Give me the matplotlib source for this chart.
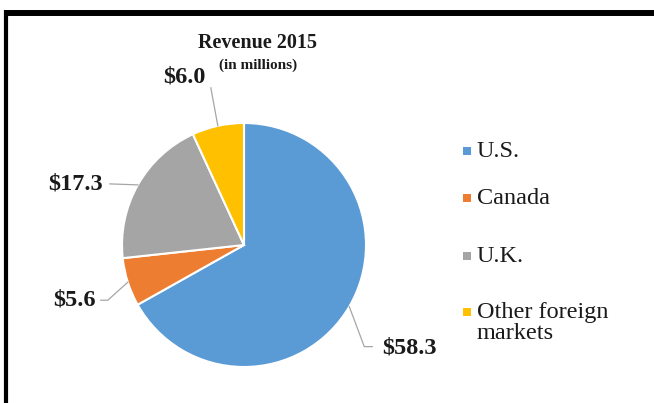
import matplotlib
matplotlib.use("Agg")
import matplotlib.pyplot as plt
import numpy as np
from matplotlib.patches import Rectangle
from matplotlib.lines import Line2D

categories = ["U.S.", "Canada", "U.K.", "Other foreign\nmarkets"]
values = [58.3, 5.6, 17.3, 6.0]
value_labels = ["$58.3", "$5.6", "$17.3", "$6.0"]
colors = ["#5B9BD5", "#ED7D31", "#A5A5A5", "#FFC000"]

W, H = 654, 403
fig = plt.figure(figsize=(W / 100, H / 100), dpi=100)
fig.patch.set_facecolor("white")

# pie placement (pixels)
cx, cy, R = 244, 245, 122
ax = fig.add_axes([(cx - R) / W, (H - cy - R) / H, 2 * R / W, 2 * R / H])
wedges, _ = ax.pie(values, colors=colors, startangle=90, counterclock=False,
                   radius=1, wedgeprops=dict(edgecolor="white", linewidth=1.5))
ax.set_xlim(-1, 1)
ax.set_ylim(-1, 1)
ax.set_aspect("equal")
ax.axis("off")

serif = ["Liberation Serif", "DejaVu Serif"]
# leader layout: polyline offsets (px, y up), text offset, alignment
layout = [
    dict(pts=[(0, 0), (15, -40), (23, -40)], txt=(33, -41), ha="left"),
    dict(pts=[(0, 0), (-20, -18), (-27, -18)], txt=(-32, -18), ha="right"),
    dict(pts=[(0, 0), (-28, 1)], txt=(-35, 1), ha="right"),
    dict(pts=[(0, 0), (-7, 38)], txt=(-33, 49), ha="center"),
]
for w, lab, lay in zip(wedges, value_labels, layout):
    th = np.deg2rad((w.theta1 + w.theta2) / 2)
    ax0, ay0 = np.cos(th), np.sin(th)
    xs = [ax0 + dx / R for dx, dy in lay["pts"]]
    ys = [ay0 + dy / R for dx, dy in lay["pts"]]
    ax.plot(xs, ys, color="#A6A6A6", lw=0.9, clip_on=False)
    ax.text(ax0 + lay["txt"][0] / R, ay0 + lay["txt"][1] / R, lab,
            ha=lay["ha"], va="center", fontsize=17.5, fontweight="bold",
            family=serif, color="#1a1a1a", clip_on=False)

# title
fig.text(258 / W, 1 - 43 / H, "Revenue 2015", ha="center", va="center",
         fontsize=14.5, fontweight="bold", family=serif, color="#1a1a1a")
fig.text(258 / W, 1 - 65 / H, "(in millions)", ha="center", va="center",
         fontsize=11, fontweight="bold", family=serif, color="#1a1a1a")

# legend (manual)
leg_y = [151, 198, 256, 312]
line_step = 21
for cat, col, yy in zip(categories, colors, leg_y):
    fig.patches.append(Rectangle((463 / W, 1 - (yy + 4) / H), 8 / W, 8 / H,
                                 transform=fig.transFigure, facecolor=col,
                                 edgecolor="none"))
    extra = cat.count("\n") * line_step
    fig.text(477 / W, 1 - (yy + 6 + extra) / H, cat, ha="left", va="baseline",
             fontsize=17.5, family=serif, color="#1a1a1a", linespacing=0.97)

# frame lines
fig.add_artist(Line2D([4 / W, 1], [1 - 12.5 / H, 1 - 12.5 / H], color="black",
                      lw=4.3, transform=fig.transFigure, solid_capstyle="butt"))
fig.add_artist(Line2D([6 / W, 6 / W], [0, 1 - 10 / H], color="black",
                      lw=3, transform=fig.transFigure, solid_capstyle="butt"))

fig.savefig("out.png", dpi=100)
